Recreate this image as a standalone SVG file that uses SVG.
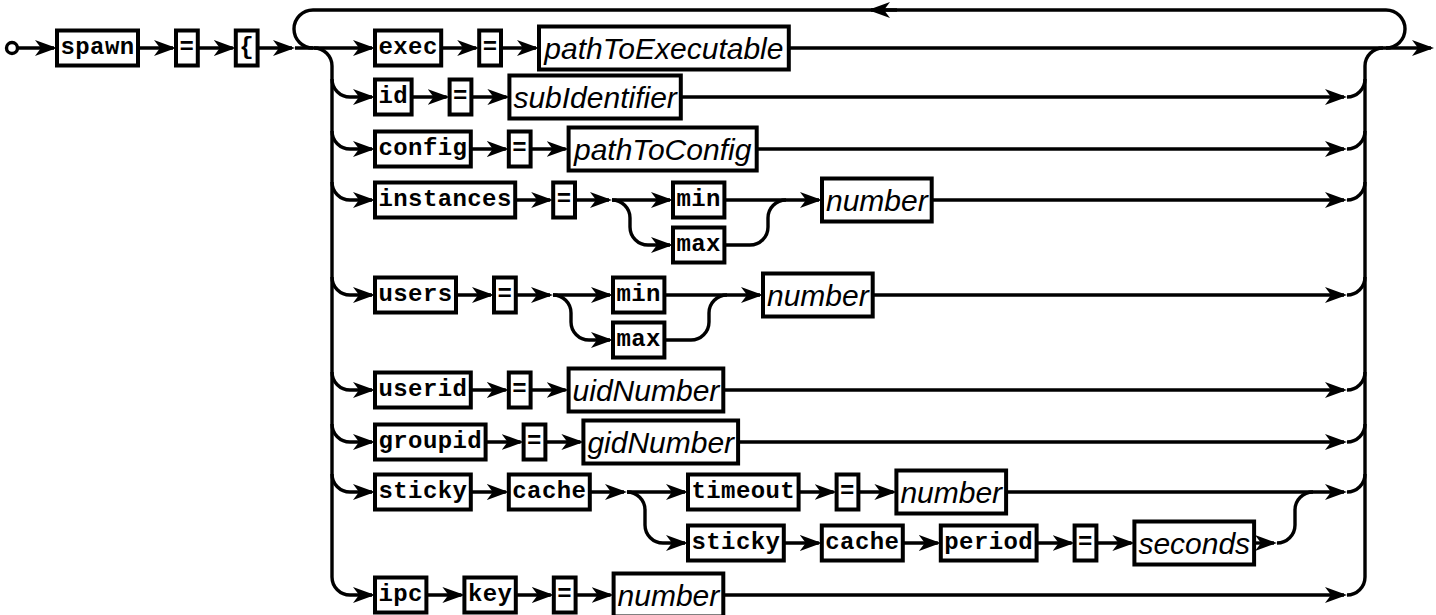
<svg xmlns="http://www.w3.org/2000/svg" width="1436" height="615" viewBox="0 0 1436 615">
<style>
.c{fill:none;stroke:#000;stroke-width:3.4}
.m{marker-end:url(#a)}
.t,.n{fill:#fff;stroke:#000;stroke-width:4}
.tt{font-family:"Liberation Mono","Courier New",monospace;font-weight:bold;font-size:24px;letter-spacing:0.4px;text-anchor:middle}
.nt{font-family:"Liberation Sans",Arial,sans-serif;font-style:italic;font-size:30px;text-anchor:middle}
</style>
<defs>
<marker id="a" markerUnits="userSpaceOnUse" markerWidth="22" markerHeight="16" refX="19" refY="8" orient="auto" viewBox="0 0 22 16"><path d="M0,0 L22,8 L0,16 L6,8 Z" fill="#000"/></marker>
</defs>
<rect width="1436" height="615" fill="#fff"/>
<g id="connectors">
<path class="c m" d="M18,48 L54,48"/>
<path class="c m" d="M138,48 L173,48"/>
<path class="c m" d="M197.8,48 L232.8,48"/>
<path class="c m" d="M257.6,48 L292,48"/>
<path class="c m" d="M295,48 L372,48"/>
<path class="c" d="M1386,48 A19 19 0 0 0 1405,29 A19 19 0 0 0 1386,10 L313,10 A19 19 0 0 0 294,29 A19 19 0 0 0 313,48"/>
<path class="c m" d="M897,10 L871,10"/>
<path class="c m" d="M314,48 A18 18 0 0 1 332,66 L332,577 A18 18 0 0 0 350,595 L372,595"/>
<path class="c" d="M1347,595 A18 18 0 0 0 1365,577 L1365,66 A18 18 0 0 1 1383,48"/>
<path class="c m" d="M788.8,48 L1431,48"/>
<path class="c m" d="M332,79 A18 18 0 0 0 350,97 L372,97"/>
<path class="c m" d="M332,131 A18 18 0 0 0 350,149 L372,149"/>
<path class="c m" d="M332,182 A18 18 0 0 0 350,200 L372,200"/>
<path class="c m" d="M332,277 A18 18 0 0 0 350,295 L372,295"/>
<path class="c m" d="M332,372 A18 18 0 0 0 350,390 L372,390"/>
<path class="c m" d="M332,424 A18 18 0 0 0 350,442 L372,442"/>
<path class="c m" d="M332,474 A18 18 0 0 0 350,492 L372,492"/>
<path class="c" d="M1347,97 A18 18 0 0 0 1365,79"/>
<path class="c" d="M1347,149 A18 18 0 0 0 1365,131"/>
<path class="c" d="M1347,200 A18 18 0 0 0 1365,182"/>
<path class="c" d="M1347,295 A18 18 0 0 0 1365,277"/>
<path class="c" d="M1347,390 A18 18 0 0 0 1365,372"/>
<path class="c" d="M1347,442 A18 18 0 0 0 1365,424"/>
<path class="c" d="M1347,492 A18 18 0 0 0 1365,474"/>
<path class="c m" d="M441.2,48 L476.2,48"/>
<path class="c m" d="M501,48 L536,48"/>
<path class="c m" d="M411.6,97 L446.6,97"/>
<path class="c m" d="M471.4,97 L506.4,97"/>
<path class="c m" d="M680.8,97 L1344,97"/>
<path class="c m" d="M470.8,149 L505.8,149"/>
<path class="c m" d="M530.6,149 L565.6,149"/>
<path class="c m" d="M756.7,149 L1344,149"/>
<path class="c m" d="M515.2,200 L550.2,200"/>
<path class="c m" d="M575,200 L609,200"/>
<path class="c m" d="M612,200 L670,200"/>
<path class="c m" d="M612,200 A18 18 0 0 1 630,218 L630,227 A18 18 0 0 0 648,245 L670,245"/>
<path class="c" d="M724.4,200 L786,200"/>
<path class="c" d="M724.4,245 L750,245 A18 18 0 0 0 768,227 L768,218 A18 18 0 0 1 786,200"/>
<path class="c m" d="M786,200 L819,200"/>
<path class="c m" d="M931.7,200 L1344,200"/>
<path class="c m" d="M456,295 L491,295"/>
<path class="c m" d="M515.8,295 L550,295"/>
<path class="c m" d="M553,295 L610,295"/>
<path class="c m" d="M553,295 A18 18 0 0 1 571,313 L571,322 A18 18 0 0 0 589,340 L610,340"/>
<path class="c" d="M664.4,295 L727,295"/>
<path class="c" d="M664.4,340 L691,340 A18 18 0 0 0 709,322 L709,313 A18 18 0 0 1 727,295"/>
<path class="c m" d="M727,295 L760,295"/>
<path class="c m" d="M872.7,295 L1344,295"/>
<path class="c m" d="M470.8,390 L505.8,390"/>
<path class="c m" d="M530.6,390 L565.6,390"/>
<path class="c m" d="M723.3,390 L1344,390"/>
<path class="c m" d="M485.6,442 L520.6,442"/>
<path class="c m" d="M545.4,442 L580.4,442"/>
<path class="c m" d="M738.1,442 L1344,442"/>
<path class="c m" d="M470.8,492 L505.8,492"/>
<path class="c m" d="M589.8,492 L624,492"/>
<path class="c m" d="M627,492 L685,492"/>
<path class="c m" d="M627,492 A18 18 0 0 1 645,510 L645,525 A18 18 0 0 0 663,543 L685,543"/>
<path class="c m" d="M798.6,492 L833.6,492"/>
<path class="c m" d="M858.4,492 L893.4,492"/>
<path class="c m" d="M1006.1,492 L1344,492"/>
<path class="c m" d="M783.8,543 L818.8,543"/>
<path class="c m" d="M902.8,543 L937.8,543"/>
<path class="c m" d="M1036.6,543 L1071.6,543"/>
<path class="c m" d="M1096.4,543 L1131.4,543"/>
<path class="c m" d="M1254.1,543 L1274,543"/>
<path class="c" d="M1277,543 A18 18 0 0 0 1295,525 L1295,510 A18 18 0 0 1 1313,492"/>
<path class="c m" d="M426.4,595 L461.4,595"/>
<path class="c m" d="M515.8,595 L550.8,595"/>
<path class="c m" d="M575.6,595 L610.6,595"/>
<path class="c m" d="M723.3,595 L1344,595"/>
</g>
<g id="start"><circle cx="12" cy="48" r="5.5" fill="#fff" stroke="#000" stroke-width="3.4"/></g>
<g id="n-spawn"><rect class="t" x="57" y="30.5" width="81" height="35"/><text class="tt" x="97.5" y="54">spawn</text></g>
<g id="n-eq0"><rect class="t" x="176" y="30.5" width="21.8" height="35"/><text class="tt" x="186.9" y="54">=</text></g>
<g id="n-brace"><rect class="t" x="235.8" y="30.5" width="21.8" height="35"/><text class="tt" x="246.7" y="54">{</text></g>
<g id="n-exec"><rect class="t" x="375" y="30.5" width="66.2" height="35"/><text class="tt" x="408.1" y="54">exec</text></g>
<g id="n-eq1"><rect class="t" x="479.2" y="30.5" width="21.8" height="35"/><text class="tt" x="490.1" y="54">=</text></g>
<g id="n-pathToExecutable"><rect class="n" x="539" y="26.5" width="249.8" height="43"/><text class="nt" x="663.9" y="59">pathToExecutable</text></g>
<g id="n-id"><rect class="t" x="375" y="79.5" width="36.6" height="35"/><text class="tt" x="393.3" y="103">id</text></g>
<g id="n-eq2"><rect class="t" x="449.6" y="79.5" width="21.8" height="35"/><text class="tt" x="460.5" y="103">=</text></g>
<g id="n-subIdentifier"><rect class="n" x="509.4" y="75.5" width="171.4" height="43"/><text class="nt" x="595.1" y="108">subIdentifier</text></g>
<g id="n-config"><rect class="t" x="375" y="131.5" width="95.8" height="35"/><text class="tt" x="422.9" y="155">config</text></g>
<g id="n-eq3"><rect class="t" x="508.8" y="131.5" width="21.8" height="35"/><text class="tt" x="519.7" y="155">=</text></g>
<g id="n-pathToConfig"><rect class="n" x="568.6" y="127.5" width="188.1" height="43"/><text class="nt" x="662.65" y="160">pathToConfig</text></g>
<g id="n-instances"><rect class="t" x="375" y="182.5" width="140.2" height="35"/><text class="tt" x="445.1" y="206">instances</text></g>
<g id="n-eq4"><rect class="t" x="553.2" y="182.5" width="21.8" height="35"/><text class="tt" x="564.1" y="206">=</text></g>
<g id="n-min1"><rect class="t" x="673" y="182.5" width="51.4" height="35"/><text class="tt" x="698.7" y="206">min</text></g>
<g id="n-max1"><rect class="t" x="673" y="227.5" width="51.4" height="35"/><text class="tt" x="698.7" y="251">max</text></g>
<g id="n-number1"><rect class="n" x="822" y="178.5" width="109.7" height="43"/><text class="nt" x="876.85" y="211">number</text></g>
<g id="n-users"><rect class="t" x="375" y="277.5" width="81" height="35"/><text class="tt" x="415.5" y="301">users</text></g>
<g id="n-eq5"><rect class="t" x="494" y="277.5" width="21.8" height="35"/><text class="tt" x="504.9" y="301">=</text></g>
<g id="n-min2"><rect class="t" x="613" y="277.5" width="51.4" height="35"/><text class="tt" x="638.7" y="301">min</text></g>
<g id="n-max2"><rect class="t" x="613" y="322.5" width="51.4" height="35"/><text class="tt" x="638.7" y="346">max</text></g>
<g id="n-number2"><rect class="n" x="763" y="273.5" width="109.7" height="43"/><text class="nt" x="817.85" y="306">number</text></g>
<g id="n-userid"><rect class="t" x="375" y="372.5" width="95.8" height="35"/><text class="tt" x="422.9" y="396">userid</text></g>
<g id="n-eq6"><rect class="t" x="508.8" y="372.5" width="21.8" height="35"/><text class="tt" x="519.7" y="396">=</text></g>
<g id="n-uidNumber"><rect class="n" x="568.6" y="368.5" width="154.7" height="43"/><text class="nt" x="645.95" y="401">uidNumber</text></g>
<g id="n-groupid"><rect class="t" x="375" y="424.5" width="110.6" height="35"/><text class="tt" x="430.3" y="448">groupid</text></g>
<g id="n-eq7"><rect class="t" x="523.6" y="424.5" width="21.8" height="35"/><text class="tt" x="534.5" y="448">=</text></g>
<g id="n-gidNumber"><rect class="n" x="583.4" y="420.5" width="154.7" height="43"/><text class="nt" x="660.75" y="453">gidNumber</text></g>
<g id="n-sticky1"><rect class="t" x="375" y="474.5" width="95.8" height="35"/><text class="tt" x="422.9" y="498">sticky</text></g>
<g id="n-cache1"><rect class="t" x="508.8" y="474.5" width="81" height="35"/><text class="tt" x="549.3" y="498">cache</text></g>
<g id="n-timeout"><rect class="t" x="688" y="474.5" width="110.6" height="35"/><text class="tt" x="743.3" y="498">timeout</text></g>
<g id="n-eq8"><rect class="t" x="836.6" y="474.5" width="21.8" height="35"/><text class="tt" x="847.5" y="498">=</text></g>
<g id="n-number3"><rect class="n" x="896.4" y="470.5" width="109.7" height="43"/><text class="nt" x="951.25" y="503">number</text></g>
<g id="n-sticky2"><rect class="t" x="688" y="525.5" width="95.8" height="35"/><text class="tt" x="735.9" y="549">sticky</text></g>
<g id="n-cache2"><rect class="t" x="821.8" y="525.5" width="81" height="35"/><text class="tt" x="862.3" y="549">cache</text></g>
<g id="n-period"><rect class="t" x="940.8" y="525.5" width="95.8" height="35"/><text class="tt" x="988.7" y="549">period</text></g>
<g id="n-eq9"><rect class="t" x="1074.6" y="525.5" width="21.8" height="35"/><text class="tt" x="1085.5" y="549">=</text></g>
<g id="n-seconds"><rect class="n" x="1134.4" y="521.5" width="119.7" height="43"/><text class="nt" x="1194.25" y="554">seconds</text></g>
<g id="n-ipc"><rect class="t" x="375" y="577.5" width="51.4" height="35"/><text class="tt" x="400.7" y="601">ipc</text></g>
<g id="n-key"><rect class="t" x="464.4" y="577.5" width="51.4" height="35"/><text class="tt" x="490.1" y="601">key</text></g>
<g id="n-eq10"><rect class="t" x="553.8" y="577.5" width="21.8" height="35"/><text class="tt" x="564.7" y="601">=</text></g>
<g id="n-number4"><rect class="n" x="613.6" y="573.5" width="109.7" height="43"/><text class="nt" x="668.45" y="606">number</text></g>
</svg>
